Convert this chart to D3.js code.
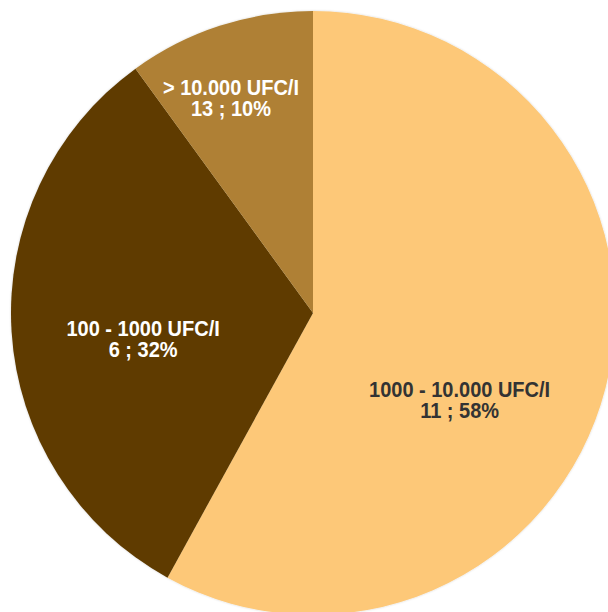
<!DOCTYPE html>
<html>
<head>
<meta charset="utf-8">
<script src="https://cdn.jsdelivr.net/npm/d3@7"></script>
<style>
  body { margin: 0; background: #fff; }
  .slice-label { font-family: "Liberation Sans", Arial, sans-serif; font-weight: bold; font-size: 20px; }
</style>
</head>
<body>
<div id="chart"></div>
<script>
// data
let categories = ["1000 - 10.000 UFC/I", "100 - 1000 UFC/I", "> 10.000 UFC/I"];
let counts = [11, 6, 13];
let percents = [58, 32, 10];
let colors = ["#fdc878", "#5e3b00", "#af8034"];
let textColors = ["#333333", "#ffffff", "#ffffff"];

// label placement (polar, from pie center): radius px, angle deg clockwise from 12 o'clock
let labelPolar = [[171, 121], [172, 261], [229, 339]];

let width = 608, height = 612;
let cx = 313, cy = 313, radius = 302;

let svg = d3.select("#chart").append("svg")
    .attr("width", width)
    .attr("height", height);

let defs = svg.append("defs");
let shadow = defs.append("filter").attr("id", "shadow")
    .attr("x", "-5%").attr("y", "-5%").attr("width", "110%").attr("height", "110%");
shadow.append("feDropShadow")
    .attr("dx", 0).attr("dy", 0).attr("stdDeviation", 0.8)
    .attr("flood-color", "#000").attr("flood-opacity", 0.18);

let g = svg.append("g")
    .attr("transform", `translate(${cx},${cy})`);

let pie = d3.pie()
    .value(d => d)
    .sort(null);

let arc = d3.arc()
    .innerRadius(0)
    .outerRadius(radius);

let arcs = pie(percents);

g.append("g")
    .attr("filter", "url(#shadow)")
    .selectAll("path")
    .data(arcs)
    .enter().append("path")
    .attr("d", arc)
    .attr("fill", (d, i) => colors[i]);

let labels = g.selectAll(".slice-label")
    .data(arcs)
    .enter().append("text")
    .attr("class", "slice-label")
    .attr("text-anchor", "middle")
    .attr("fill", (d, i) => textColors[i])
    .attr("transform", (d, i) => {
        let r = labelPolar[i][0];
        let a = labelPolar[i][1] * Math.PI / 180;
        return `translate(${r * Math.sin(a)},${-r * Math.cos(a)}) scale(1,1.08)`;
    });

labels.append("tspan")
    .attr("x", 0)
    .attr("y", -4)
    .text((d, i) => categories[i]);

labels.append("tspan")
    .attr("x", 0)
    .attr("y", 16)
    .text((d, i) => `${counts[i]} ; ${percents[i]}%`);
</script>
</body>
</html>
